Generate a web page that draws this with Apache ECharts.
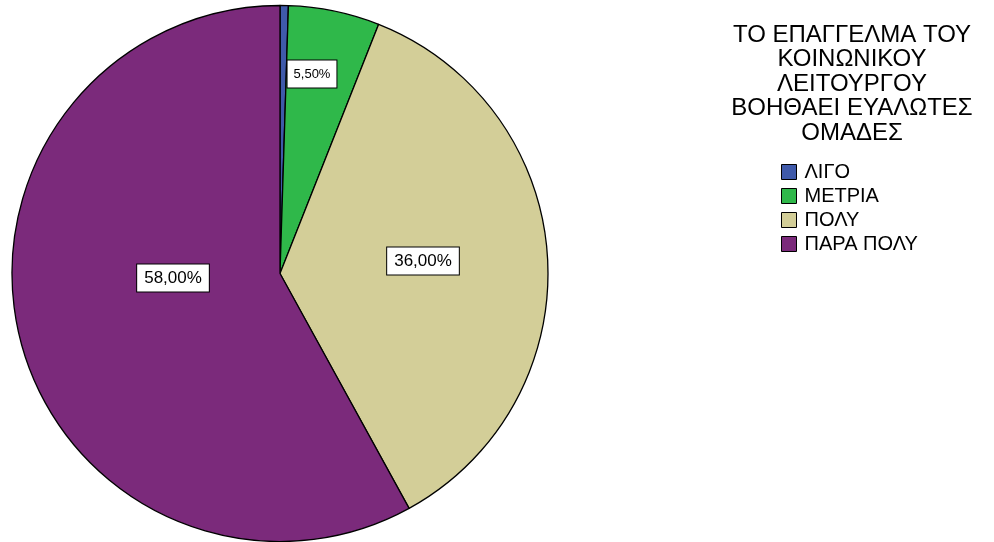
<!DOCTYPE html>
<html>
<head>
<meta charset="utf-8">
<script src="https://cdn.jsdelivr.net/npm/echarts@6/dist/echarts.min.js"></script>
<style>html,body{margin:0;padding:0;background:#fff}#c{width:994px;height:542px}</style>
</head>
<body>
<div id="c"></div>
<script>
const titleText = 'ΤΟ ΕΠΑΓΓΕΛΜΑ ΤΟΥ\nΚΟΙΝΩΝΙΚΟΥ\nΛΕΙΤΟΥΡΓΟΥ\nΒΟΗΘΑΕΙ ΕΥΑΛΩΤΕΣ\nΟΜΑΔΕΣ';
const categories = ['ΛΙΓΟ', 'ΜΕΤΡΙΑ', 'ΠΟΛΥ', 'ΠΑΡΑ ΠΟΛΥ'];
const percentValues = [0.5, 5.5, 36.0, 58.0];
const showLabel = [false, true, true, true];

const colors = ['#3f5aaa', '#2fb84a', '#d3ce98', '#7b2a7b'];
const labelCenters = [[0, 0], [312, 74], [423, 261], [173, 278]];
const labelFontSizes = [12, 13, 17, 17];
const labelPaddings = [[4, 4], [6, 6], [4, 7], [4, 7]];
const FONT = "'Liberation Sans', Arial, sans-serif";

const chart = echarts.init(document.getElementById('c'), null, {renderer: 'canvas'});
const data = categories.map((name, i) => ({
  name: name,
  value: percentValues[i],
  itemStyle: {color: colors[i]},
  label: {
    show: showLabel[i],
    fontSize: labelFontSizes[i],
    lineHeight: labelFontSizes[i] + 2,
    padding: labelPaddings[i]
  }
}));

chart.setOption({
  animation: false,
  backgroundColor: '#ffffff',
  title: {
    text: titleText,
    left: 852,
    top: 23,
    padding: 0,
    textAlign: 'center',
    textStyle: {
      fontFamily: FONT,
      fontSize: 24,
      lineHeight: 24.5,
      fontWeight: 'normal',
      color: '#000'
    }
  },
  legend: {
    orient: 'vertical',
    left: 781,
    top: 162,
    padding: 0,
    itemWidth: 15,
    itemHeight: 15,
    itemGap: 4,
    icon: 'rect',
    data: categories,
    itemStyle: {borderColor: '#000', borderWidth: 1},
    textStyle: {fontFamily: FONT, fontSize: 20, lineHeight: 20, color: '#000', padding: [0, 0, 0, 3]},
    selectedMode: false
  },
  series: [{
    type: 'pie',
    center: [280, 273.5],
    radius: [0, 268],
    startAngle: 90,
    clockwise: true,
    avoidLabelOverlap: false,
    itemStyle: {borderColor: '#000', borderWidth: 1.3},
    emphasis: {disabled: true},
    label: {
      position: 'inside',
      fontFamily: FONT,
      color: '#000',
      backgroundColor: '#fff',
      borderColor: '#000',
      borderWidth: 1,
      formatter: p => p.value.toFixed(2).replace('.', ',') + '%'
    },
    labelLine: {show: false},
    labelLayout: function (params) {
      const c = labelCenters[params.dataIndex];
      return {x: c[0], y: c[1], align: 'center', verticalAlign: 'middle'};
    },
    data: data
  }]
});
</script>
</body>
</html>
